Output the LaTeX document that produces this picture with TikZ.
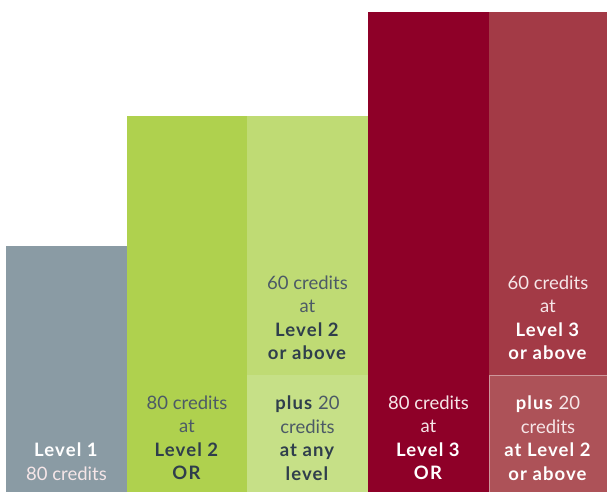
\documentclass[tikz,border=0pt]{standalone}
\usepackage{fontspec}
\setmainfont{Lato}[BoldFeatures={LetterSpace=6}]
\definecolor{greyb}{HTML}{8A9BA4}
\definecolor{greenA}{HTML}{AFD14E}
\definecolor{greenB}{HTML}{BFDB74}
\definecolor{greenC}{HTML}{C6E087}
\definecolor{crimson}{HTML}{8E0028}
\definecolor{roseA}{HTML}{A33A46}
\definecolor{roseB}{HTML}{AD5258}
\definecolor{slate}{HTML}{2F3E4C}
\definecolor{slatel}{HTML}{4C5A66}
\definecolor{pinkw}{HTML}{F6E6E8}
\tikzset{
  lbl/.style={align=center, font=\fontsize{18.5}{23.5}\selectfont, inner sep=0pt},
  dk/.style={lbl, text=slate},
  wt/.style={lbl, text=white},
}
\newcommand{\lt}[1]{{\color{slatel}#1}}
\newcommand{\lw}[1]{{\color{pinkw}#1}}
\begin{document}
\begin{tikzpicture}[x=1pt,y=1pt]
\useasboundingbox (0,0) rectangle (607,492);
\fill[white] (0,0) rectangle (607,492);
% columns
\fill[greyb] (6,0) rectangle (127,246);
\fill[greenA] (127,0) rectangle (247,376);
\fill[greenB] (247,117) rectangle (368,376);
\fill[greenC] (247,0) rectangle (368,117);
\fill[crimson] (368,0) rectangle (489,480);
\fill[roseA] (489,117) rectangle (607,480);
\fill[roseB] (489,0) rectangle (607,117);
\draw[line width=0.8pt, draw=roseB!60!white] (489.4,0) -- (489.4,117) -- (607,117);
% labels
\node[wt] (l1) at (66.5,30.5) {\textbf{Level 1}\\\lw{80 credits}};
\node[dk] (l2) at (187,54) {\lt{80 credits}\\\lt{at}\\\textbf{Level 2}\\\textbf{OR}};
\node[dk] (l2u) at (307.5,174) {\lt{60 credits}\\\lt{at}\\\textbf{Level 2}\\\textbf{or above}};
\node[dk] (l2l) at (307.5,54) {\textbf{plus} \lt{20}\\\lt{credits}\\\textbf{at any}\\\textbf{level}};
\node[wt] (l3) at (428.5,54) {\lw{80 credits}\\\lw{at}\\\textbf{Level 3}\\\textbf{OR}};
\node[wt] (l3u) at (548,174) {\lw{60 credits}\\\lw{at}\\\textbf{Level 3}\\\textbf{or above}};
\node[wt] (l3l) at (548,54) {\textbf{plus} \lw{20}\\\lw{credits}\\\textbf{at Level 2}\\\textbf{or above}};
\end{tikzpicture}
\end{document}
